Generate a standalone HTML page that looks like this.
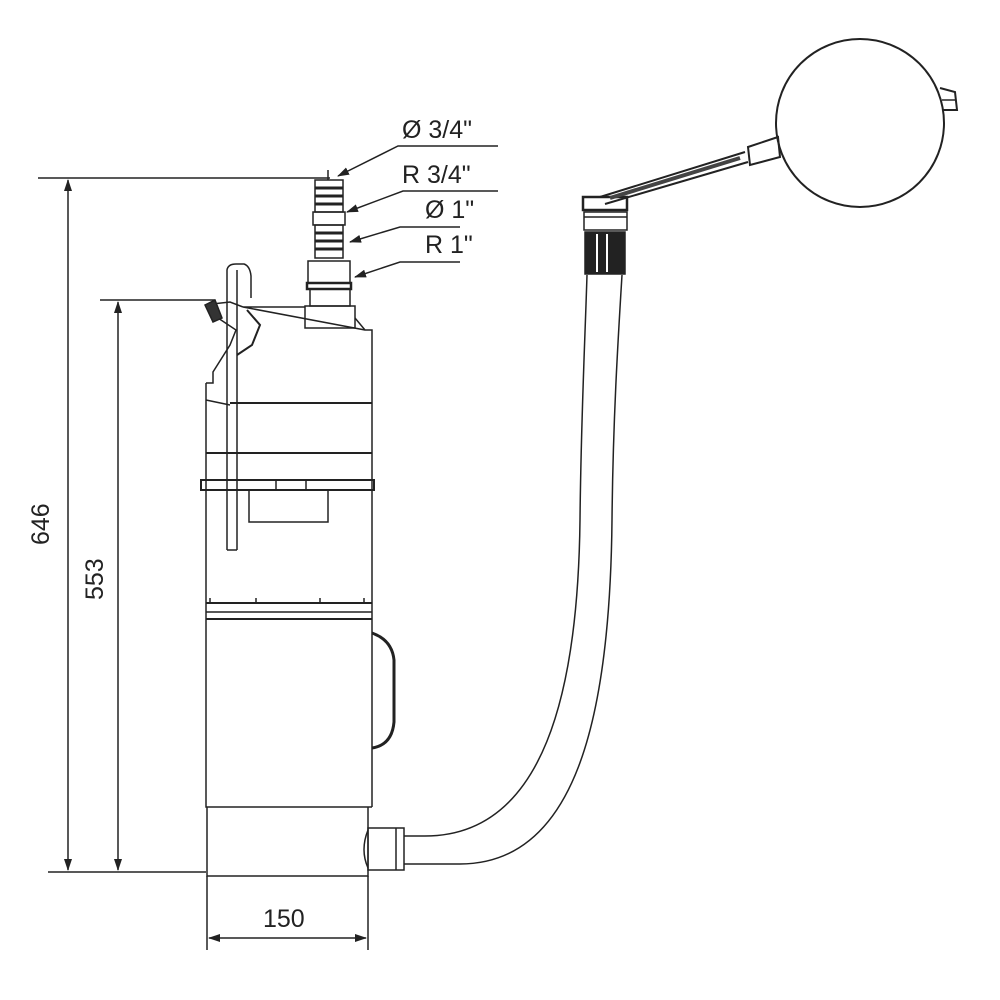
<!DOCTYPE html>
<html><head><style>body{margin:0;background:#fff}svg{display:block}</style></head><body>
<svg width="1000" height="1000" viewBox="0 0 1000 1000" xmlns="http://www.w3.org/2000/svg" font-family="Liberation Sans, sans-serif">
<defs><marker id="a" markerWidth="12" markerHeight="8" refX="11" refY="4" orient="auto" markerUnits="userSpaceOnUse"><path d="M0,0 L12,4 L0,8 Z" fill="#222"/></marker>
<marker id="s" markerWidth="12" markerHeight="8" refX="1" refY="4" orient="auto" markerUnits="userSpaceOnUse"><path d="M12,0 L0,4 L12,8 Z" fill="#222"/></marker></defs>
<g stroke="#222" stroke-width="1.5" fill="none">
<line x1="38" y1="178" x2="330" y2="178"/>
<line x1="48" y1="872" x2="206" y2="872"/>
<line x1="68" y1="180" x2="68" y2="870" marker-start="url(#s)" marker-end="url(#a)"/>
<line x1="100" y1="300" x2="215" y2="300"/>
<line x1="118" y1="302" x2="118" y2="870" marker-start="url(#s)" marker-end="url(#a)"/>
<line x1="207" y1="876" x2="207" y2="950"/>
<line x1="368" y1="876" x2="368" y2="950"/>
<line x1="209" y1="938" x2="366" y2="938" marker-start="url(#s)" marker-end="url(#a)"/>
<polyline points="498,146 398,146 338,176" marker-end="url(#a)"/>
<polyline points="498,191 403,191 347,212" marker-end="url(#a)"/>
<polyline points="460,227 400,227 350,242" marker-end="url(#a)"/>
<polyline points="460,262 400,262 355,277" marker-end="url(#a)"/>
<line x1="328" y1="170" x2="328" y2="180"/>
<rect x="315" y="180" width="28" height="32"/>
<line x1="315" y1="188" x2="343" y2="188" stroke-width="3"/><line x1="315" y1="196" x2="343" y2="196" stroke-width="3"/><line x1="315" y1="204" x2="343" y2="204" stroke-width="3"/>
<rect x="313" y="212" width="32" height="13"/>
<rect x="315" y="225" width="28" height="33"/>
<line x1="315" y1="233" x2="343" y2="233" stroke-width="3"/><line x1="315" y1="241" x2="343" y2="241" stroke-width="3"/><line x1="315" y1="249" x2="343" y2="249" stroke-width="3"/>
<rect x="308" y="261" width="42" height="22"/>
<rect x="307" y="283" width="44" height="6" stroke-width="2.5"/>
<rect x="310" y="289" width="40" height="17"/>
<rect x="305" y="306" width="50" height="22"/>
<path d="M243,307 L305,307 M355,318 L365,330 L372,330 L372,807 M243,307 L365,330"/>
<path d="M206,383 L213,383 L213,372 L230,345 L236,330 L218,318 L212,304 L230,302 L243,307"/>
<path d="M206,383 L206,400 L230,405 M206,400 L206,807 L372,807"/>
<line x1="230" y1="403" x2="372" y2="403" stroke-width="2"/>
<line x1="206" y1="453" x2="372" y2="453" stroke-width="2"/>
<rect x="201" y="480" width="173" height="10" stroke-width="2"/>
<line x1="276" y1="480" x2="276" y2="490"/><line x1="306" y1="480" x2="306" y2="490"/>
<rect x="249" y="490" width="79" height="32"/>
<path d="M227,550 L227,270 Q228,264 236,264 L244,264 Q250,266 251,276 L251,298 M237,550 L237,270"/>
<path d="M227,550 L237,550"/>
<path d="M247,310 L260,325 L252,345 L237,355" stroke-width="2"/>
<path d="M205,305 L215,300 L222,318 L213,322 Z" fill="#333"/>
<line x1="206" y1="603" x2="372" y2="603" stroke-width="2"/>
<line x1="206" y1="612" x2="372" y2="612"/>
<line x1="206" y1="619" x2="372" y2="619" stroke-width="2"/>
<line x1="210" y1="598" x2="210" y2="603"/><line x1="256" y1="598" x2="256" y2="603"/><line x1="320" y1="598" x2="320" y2="603"/><line x1="364" y1="598" x2="364" y2="603"/>
<path d="M372,633 Q392,640 394,660 L394,722 Q392,745 372,748" stroke-width="3"/>
<path d="M207,807 L207,876 L368,876 L368,807"/>
<path d="M368,830 Q360,850 368,868"/>
<rect x="368" y="828" width="36" height="42"/>
<line x1="396" y1="828" x2="396" y2="870"/>
<path d="M404,836 L425,836 C545,836 578,690 580,520 C581,420 585,340 587,275"/>
<path d="M404,864 L460,864 C575,864 610,720 612,520 C613,420 618,340 622,275"/>
<rect x="585" y="232" width="40" height="42" fill="#222"/>
<line x1="597" y1="234" x2="597" y2="272" stroke="#fff" stroke-width="2"/>
<line x1="607" y1="234" x2="607" y2="272" stroke="#fff" stroke-width="2"/>
<rect x="584" y="212" width="43" height="18"/>
<line x1="584" y1="217" x2="627" y2="217"/>
<rect x="583" y="197" width="44" height="13" stroke-width="2.5"/>
<path d="M600,197 L745,152 M605,204 L748,162" stroke-width="2"/>
<path d="M610,198 L740,158" stroke-width="4" stroke="#444"/>
<path d="M748,147 L778,137 L780,157 L750,165 Z" stroke-width="2"/>
<circle cx="860" cy="123" r="84" stroke-width="2"/>
<path d="M940,88 L955,92 L957,110 L943,110" stroke-width="2"/>
<line x1="942" y1="100" x2="956" y2="100"/>
</g>
<g fill="#222" font-size="25">
<text x="402" y="138">Ø 3/4"</text>
<text x="402" y="183">R 3/4"</text>
<text x="425" y="218">Ø 1"</text>
<text x="425" y="253">R 1"</text>
<text x="263" y="927">150</text>
<text transform="translate(49,545) rotate(-90)">646</text>
<text transform="translate(103,600) rotate(-90)">553</text>
</g>
</svg>
</body></html>
